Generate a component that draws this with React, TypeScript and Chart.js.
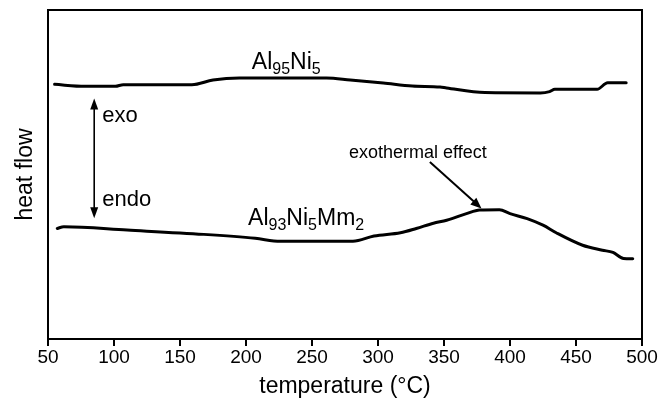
import React, { useEffect, useRef } from "react";
import { Chart, registerables } from "chart.js";

Chart.register(...registerables);

// ---- data ----
const al95Temp = [55, 78, 101, 107, 159, 175, 195, 261, 279, 304, 326, 347, 352, 381, 423, 430, 434, 466, 474, 488];
const al95Flow = [77.4, 76.8, 76.8, 77.3, 77.3, 78.7, 79.3, 79.3, 78.7, 77.8, 76.9, 76.6, 76.3, 74.9, 74.8, 75.2, 75.9, 75.9, 77.9, 77.9];

const al93Temp = [57, 62, 110, 168, 207, 226, 281, 297, 317, 329, 342, 352, 367, 377, 392, 400, 413, 425, 435, 455, 470, 478, 486, 493];
const al93Flow = [33.6, 34.1, 33.1, 31.8, 30.6, 29.7, 29.7, 31.3, 32.3, 33.6, 35.2, 36.1, 38.1, 39.2, 39.3, 38.1, 36.6, 34.6, 32.3, 28.5, 27.0, 26.3, 24.5, 24.4];

const xTicks = [50, 100, 150, 200, 250, 300, 350, 400, 450, 500];
const xTitle = "temperature (°C)";
const yTitle = "heat flow";

const label95: [string, boolean][] = [["Al", false], ["95", true], ["Ni", false], ["5", true]];
const label93: [string, boolean][] = [["Al", false], ["93", true], ["Ni", false], ["5", true], ["Mm", false], ["2", true]];
const effectText = "exothermal effect";
const exoText = "exo";
const endoText = "endo";

// ---- annotation placement (data coordinates) ----
const ANN = {
  label95: { x: 204.4, y: 82.2 },
  label93: { x: 201.6, y: 34.6 },
  effect: { x: 330.2, y: 56.4 },
  effectArrowFrom: { x: 339.3, y: 53.8 },
  effectArrowTo: { x: 378.4, y: 39.7 },
  exoArrowX: 85,
  exoArrowTop: 73.1,
  exoArrowBottom: 36.7,
  exo: { x: 91.1, y: 67.7 },
  endo: { x: 91.1, y: 42.2 },
};

const FONT = '"Liberation Sans", Arial, Helvetica, sans-serif';

function arrowHead(ctx: CanvasRenderingContext2D, x1: number, y1: number, x2: number, y2: number, len: number, half: number) {
  const ang = Math.atan2(y2 - y1, x2 - x1);
  ctx.beginPath();
  ctx.moveTo(x2, y2);
  ctx.lineTo(x2 - len * Math.cos(ang) + half * Math.sin(ang), y2 - len * Math.sin(ang) - half * Math.cos(ang));
  ctx.lineTo(x2 - len * Math.cos(ang) - half * Math.sin(ang), y2 - len * Math.sin(ang) + half * Math.cos(ang));
  ctx.closePath();
  ctx.fill();
}

function drawFormula(ctx: CanvasRenderingContext2D, parts: [string, boolean][], x: number, baseline: number, main: number, sub: number, drop: number) {
  let cx = x;
  for (const [t, isSub] of parts) {
    ctx.font = `${isSub ? sub : main}px ${FONT}`;
    ctx.fillText(t, cx, isSub ? baseline + drop : baseline);
    cx += ctx.measureText(t).width;
  }
}

const annotatePlugin = {
  id: "annotate",
  afterDraw(chart: any) {
    const { ctx, chartArea: a, scales } = chart;
    const xs = scales.x;
    const ys = scales.y;
    const px = (v: number) => xs.getPixelForValue(v);
    const py = (v: number) => ys.getPixelForValue(v);
    ctx.save();
    ctx.strokeStyle = "#000";
    ctx.fillStyle = "#000";
    ctx.lineWidth = 2;
    ctx.strokeRect(a.left, a.top, a.right - a.left, a.bottom - a.top);

    ctx.textAlign = "left";
    ctx.textBaseline = "alphabetic";
    drawFormula(ctx, label95, px(ANN.label95.x), py(ANN.label95.y), 23, 16, 5);
    drawFormula(ctx, label93, px(ANN.label93.x), py(ANN.label93.y), 23, 16, 5);

    ctx.font = `18px ${FONT}`;
    ctx.textAlign = "center";
    ctx.textBaseline = "middle";
    ctx.fillText(effectText, px(ANN.effect.x), py(ANN.effect.y));

    ctx.font = `22px ${FONT}`;
    ctx.textAlign = "left";
    ctx.fillText(exoText, px(ANN.exo.x), py(ANN.exo.y));
    ctx.fillText(endoText, px(ANN.endo.x), py(ANN.endo.y));

    // exothermal effect arrow
    const fx = px(ANN.effectArrowFrom.x), fy = py(ANN.effectArrowFrom.y);
    const tx = px(ANN.effectArrowTo.x), ty = py(ANN.effectArrowTo.y);
    ctx.lineWidth = 2;
    const ang = Math.atan2(ty - fy, tx - fx);
    ctx.beginPath();
    ctx.moveTo(fx, fy);
    ctx.lineTo(tx - 8 * Math.cos(ang), ty - 8 * Math.sin(ang));
    ctx.stroke();
    arrowHead(ctx, fx, fy, tx, ty, 11, 4.5);

    // exo / endo double arrow
    const ax = px(ANN.exoArrowX);
    const at = py(ANN.exoArrowTop);
    const ab = py(ANN.exoArrowBottom);
    ctx.lineWidth = 1.6;
    ctx.beginPath();
    ctx.moveTo(ax, at + 8);
    ctx.lineTo(ax, ab - 8);
    ctx.stroke();
    arrowHead(ctx, ax, ab, ax, at, 11, 4);
    arrowHead(ctx, ax, at, ax, ab, 11, 4);
    ctx.restore();
  },
};

export default function App() {
  const ref = useRef<HTMLCanvasElement | null>(null);
  useEffect(() => {
    document.body.style.margin = "0";
    const canvas = ref.current;
    if (!canvas) return;
    const chart = new Chart(canvas, {
      type: "line",
      data: {
        datasets: [
          {
            label: "Al95Ni5",
            data: al95Temp.map((t, i) => ({ x: t, y: al95Flow[i] })),
            borderColor: "#000",
            borderWidth: 3,
            pointRadius: 0,
            cubicInterpolationMode: "monotone",
            borderCapStyle: "round",
            borderJoinStyle: "round",
            fill: false,
          },
          {
            label: "Al93Ni5Mm2",
            data: al93Temp.map((t, i) => ({ x: t, y: al93Flow[i] })),
            borderColor: "#000",
            borderWidth: 3,
            pointRadius: 0,
            cubicInterpolationMode: "monotone",
            borderCapStyle: "round",
            borderJoinStyle: "round",
            fill: false,
          },
        ],
      },
      options: {
        responsive: false,
        animation: false,
        devicePixelRatio: 1,
        layout: { padding: { left: 0, right: 25, top: 10, bottom: 0 } },
        plugins: { legend: { display: false }, tooltip: { enabled: false } },
        scales: {
          x: {
            type: "linear",
            min: 50,
            max: 500,
            afterBuildTicks: (s: any) => {
              s.ticks = xTicks.map((v) => ({ value: v }));
            },
            afterFit: (s: any) => {
              s.height = 62;
            },
            border: { display: false },
            grid: {
              drawOnChartArea: false,
              drawTicks: true,
              tickLength: 7,
              color: "#000",
              lineWidth: 2,
            },
            ticks: {
              color: "#000",
              padding: 0,
              maxRotation: 0,
              autoSkip: false,
              font: { family: FONT, size: 19 },
            },
            title: {
              display: true,
              text: xTitle,
              color: "#000",
              font: { family: FONT, size: 23 },
              padding: { top: 0, bottom: 1 },
            },
          },
          y: {
            type: "linear",
            min: 0,
            max: 100,
            afterFit: (s: any) => {
              s.width = 48;
            },
            border: { display: false },
            grid: { display: false },
            ticks: { display: false },
            title: {
              display: true,
              text: yTitle,
              color: "#000",
              font: { family: FONT, size: 23 },
              padding: { top: 12, bottom: 0 },
            },
          },
        },
      },
      plugins: [annotatePlugin],
    } as any);
    return () => chart.destroy();
  }, []);
  return (
    <div style={{ width: 667, height: 401, background: "#fff" }}>
      <canvas ref={ref} width={667} height={401} style={{ display: "block", width: 667, height: 401 }} />
    </div>
  );
}
